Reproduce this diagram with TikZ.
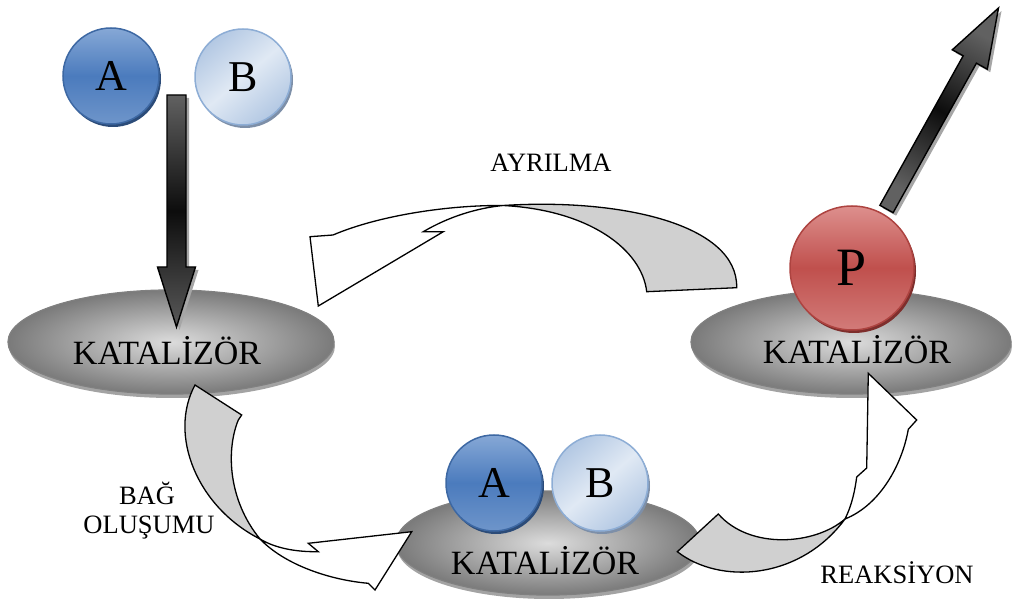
\documentclass[tikz,border=0pt]{standalone}
\usepackage{fontspec}
\setmainfont{Liberation Serif}
\usetikzlibrary{shapes.geometric,shadows,calc}

\definecolor{aTop}{HTML}{86A8D6}
\definecolor{aMid}{HTML}{4B7BBD}
\definecolor{aBot}{HTML}{6E95CA}
\definecolor{aRim}{HTML}{3D68A3}
\definecolor{aShade}{HTML}{2B4B78}
\definecolor{bEdge}{HTML}{B3C8E3}
\definecolor{bMid}{HTML}{E0E9F4}
\definecolor{bRim}{HTML}{8DADD5}
\definecolor{bShade}{HTML}{7D8FA8}
\definecolor{pTop}{HTML}{DD8F8D}
\definecolor{pMid}{HTML}{C0504D}
\definecolor{pBot}{HTML}{D27B79}
\definecolor{pRim}{HTML}{AD4340}
\definecolor{pShade}{HTML}{7E2E2C}
\definecolor{bandgray}{HTML}{D0D0D0}
\definecolor{discIn}{HTML}{DCDCDC}
\definecolor{discOut}{HTML}{7A7A7A}

\begin{document}
\begin{tikzpicture}[x=1pt,y=-1pt,
  catalyst/.style={ellipse, draw=black!50, line width=1.3pt,
    inner color=discIn, outer color=discOut, inner sep=0pt,
    minimum height=104pt,
    drop shadow={shadow xshift=1pt, shadow yshift=-4pt, fill=black!60, opacity=0.6}},
  cattext/.style={font=\fontsize{34}{39}\selectfont, inner sep=0pt},
  steplabel/.style={font=\fontsize{26.5}{31}\selectfont, inner sep=0pt},
  ball/.style={circle, inner sep=0pt, line width=1.5pt, minimum size=96pt,
    font=\fontsize{44}{50}\selectfont},
  ballA/.style={ball, draw=aRim, top color=aTop, bottom color=aBot, middle color=aMid,
    drop shadow={shadow xshift=2pt, shadow yshift=-3pt, fill=aShade, opacity=1}},
  ballB/.style={ball, draw=bRim, top color=bEdge, bottom color=bEdge, middle color=bMid,
    shading angle=40,
    drop shadow={shadow xshift=2pt, shadow yshift=-3pt, fill=bShade, opacity=1}},
  ballP/.style={ball, minimum size=124pt, draw=pRim, top color=pTop, bottom color=pBot,
    middle color=pMid, font=\fontsize{54}{60}\selectfont,
    drop shadow={shadow xshift=2pt, shadow yshift=-3pt, fill=pShade, opacity=1}},
  band/.style={draw=black, line width=1.3pt, line join=miter, fill=bandgray},
  bandhead/.style={draw=black, line width=1.3pt, line join=miter, fill=white},
  bigarrow/.style={draw=black, line width=1.4pt, line join=miter},
  arrowshadow/.style={fill=black!35}
]
\useasboundingbox (0,0) rectangle (1013,601);

% ---- catalyst discs ----
\node[catalyst, minimum width=326pt] (k1) at (171,342) {};
\node[catalyst, minimum width=304pt] (k2) at (548,543) {};
\node[catalyst, minimum width=320pt] (k3) at (851,342) {};
\node[cattext] (k1t) at (167,351) {KATALİZÖR};
\node[cattext] (k2t) at (545,561) {KATALİZÖR};
\node[cattext] (k3t) at (857,350) {KATALİZÖR};

% ---- curved arrow: separation (top) ----
\draw[band] (736.7,287.7) -- (646.7,291.7)
  .. controls (642,250) and (590,210) .. (503,205.5)
  .. controls (620,198) and (738,224) .. cycle;
\draw[bandhead] (503,205.5)
  .. controls (450,205) and (380,215) .. (333,235)
  -- (310,236.7) -- (318.3,306) -- (443.3,231.7) -- (423.3,231.7)
  .. controls (450,216) and (478,208) .. cycle;

% ---- curved arrow: bond formation (left) ----
\draw[band] (195,385) -- (241.7,415) -- (238.3,420)
  .. controls (226,450) and (228,500) .. (260,539)
  .. controls (197,507) and (168,435) .. cycle;
\draw[bandhead] (260,539)
  .. controls (275,548) and (295,552) .. (318.3,551.7)
  -- (308.3,543.3) -- (411.7,531.7) -- (375,590) -- (368.3,583.3)
  .. controls (330,580) and (285,565) .. cycle;

% ---- curved arrow: reaction (right) ----
\draw[band] (718.3,514) -- (677.3,551.7)
  .. controls (720,585) and (800,580) .. (845,519)
  .. controls (815,545) and (750,550) .. cycle;
\draw[bandhead] (845,519)
  .. controls (852,505) and (855,490) .. (856.7,477)
  -- (866.7,468) -- (868.3,373.3) -- (916.7,420) -- (908.3,429.3)
  .. controls (902,465) and (880,505) .. cycle;

% ---- product leaving (arrow behind P) ----
\fill[arrowshadow, shift={(3,3)}] (879.9,205.3) -- (963.2,55.8) -- (952.3,49.8)
  -- (998.5,8) -- (987.3,69.2) -- (976.4,63.2) -- (893.1,212.7) -- cycle;
\shade[bigarrow, top color=black!62, bottom color=black!62, middle color=black!95,
  shading angle=-29] (879.9,205.3) -- (963.2,55.8) -- (952.3,49.8)
  -- (998.5,8) -- (987.3,69.2) -- (976.4,63.2) -- (893.1,212.7) -- cycle;

% ---- spheres ----
\node[ballA] (a1) at (111,76) {A};
\node[ballB] (b1) at (243,77) {B};
\node[ballA] (a2) at (494,483) {A};
\node[ballB] (b2) at (600,483) {B};
\node[ballP] (p) at (852,268) {P};

% ---- reactants arriving (down arrow) ----
\fill[arrowshadow, shift={(3,3)}] (167,95) -- (186,95) -- (186,267) -- (195.5,267)
  -- (176.5,327) -- (157.5,267) -- (167,267) -- cycle;
\shade[bigarrow, top color=black!62, bottom color=black!65, middle color=black!95]
  (167,95) -- (186,95) -- (186,267) -- (195.5,267)
  -- (176.5,327) -- (157.5,267) -- (167,267) -- cycle;

% ---- step labels ----
\node[steplabel] (l1) at (551,163) {AYRILMA};
\node[steplabel] (l2) at (147,493) {BAĞ};
\node[steplabel] (l3) at (149,528) {OLUŞUMU};
\node[steplabel] (l4) at (897,573) {REAKSİYON};
\end{tikzpicture}
\end{document}
